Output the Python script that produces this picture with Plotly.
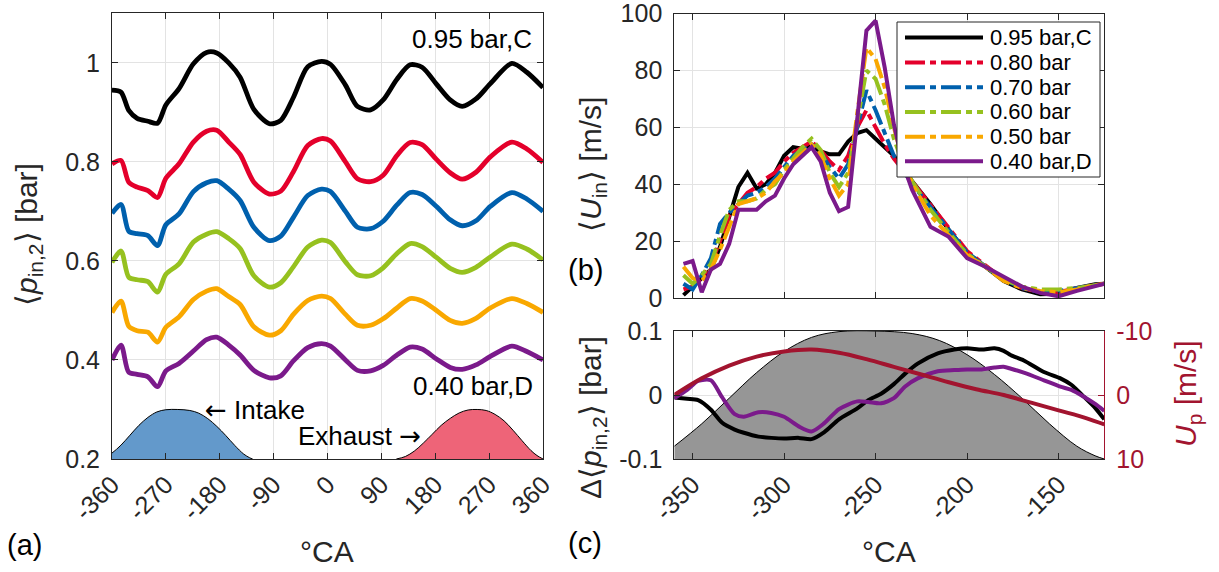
import plotly.graph_objects as go

W, H = 1219, 572
def px(x): return x / W
def py(y): return 1 - y / H

# ---------------- Panel (a) data ----------------
ca_a = [-360,-345,-332,-318,-300,-284,-270,-248,-224,-202,-185,-165,-146,-123,-97,-78,-57,-33,-10,5,
        30,50,72,93,116,138,158,182,205,225,248,272,308,333,360]
p_095 = [0.945,0.941,0.904,0.888,0.882,0.878,0.915,0.948,0.998,1.021,1.020,1.000,0.971,0.906,0.877,0.884,0.930,0.992,1.003,0.997,
         0.955,0.912,0.905,0.925,0.967,0.996,0.991,0.957,0.925,0.912,0.927,0.958,0.999,0.981,0.950]
p_080 = [0.796,0.803,0.759,0.749,0.742,0.728,0.767,0.796,0.840,0.862,0.864,0.840,0.815,0.759,0.735,0.741,0.780,0.833,0.847,0.842,
         0.800,0.766,0.760,0.773,0.813,0.839,0.835,0.805,0.778,0.765,0.779,0.810,0.840,0.826,0.799]
p_070 = [0.696,0.714,0.660,0.655,0.651,0.631,0.673,0.695,0.740,0.758,0.762,0.745,0.722,0.668,0.641,0.650,0.688,0.732,0.745,0.740,
         0.700,0.668,0.665,0.680,0.713,0.738,0.734,0.710,0.683,0.671,0.681,0.710,0.738,0.725,0.700]
p_060 = [0.597,0.620,0.567,0.562,0.558,0.537,0.573,0.594,0.638,0.654,0.659,0.645,0.625,0.570,0.547,0.556,0.588,0.628,0.642,0.637,
         0.598,0.572,0.570,0.586,0.615,0.635,0.629,0.607,0.585,0.577,0.587,0.608,0.634,0.624,0.602]
p_050 = [0.496,0.519,0.468,0.459,0.456,0.436,0.466,0.487,0.522,0.539,0.544,0.528,0.512,0.467,0.450,0.459,0.492,0.520,0.529,0.524,
         0.492,0.470,0.470,0.483,0.505,0.524,0.519,0.500,0.480,0.474,0.484,0.505,0.524,0.514,0.496]
p_040 = [0.400,0.430,0.375,0.371,0.366,0.346,0.378,0.393,0.418,0.441,0.446,0.430,0.410,0.379,0.364,0.368,0.398,0.425,0.433,0.428,
         0.400,0.379,0.378,0.389,0.410,0.426,0.422,0.402,0.385,0.381,0.390,0.407,0.428,0.417,0.400]

# valve lifts (plotted in bar units, baseline 0.2)
ca_int = [-375,-360,-345,-330,-315,-300,-285,-270,-250,-230,-215,-200,-185,-170,-155,-140,-130,-125]
lift_int = [0.200,0.212,0.228,0.248,0.268,0.284,0.295,0.2995,0.300,0.298,0.2925,0.2815,0.266,0.2475,0.2275,0.210,0.2025,0.200]
ca_exh = [115,130,145,160,175,190,205,220,235,250,265,280,295,310,325,340,350,360]
lift_exh = [0.200,0.205,0.216,0.232,0.250,0.268,0.282,0.293,0.299,0.300,0.298,0.290,0.277,0.258,0.237,0.217,0.207,0.200]

# ---------------- Panel (b) data ----------------
ca_b = [-355,-350,-345,-340,-335,-330,-325,-320,-315,-310,-305,-300,-295,-290,-285,-280,-275,-270,-265,-260,
        -255,-250,-245,-240,-235,-230,-220,-210,-200,-190,-180,-170,-160,-150,-140,-130,-125]
u_095 = [1,4,7,10,18,28,39,44,38.5,40,44,50,53,52.5,53.5,51.5,50.5,50.5,55,58,
         59,56,53,50,46,41,33,24,16,11,6,3,1.3,1.5,3.5,4.8,5]
u_080 = [3,4,7,12,20,29,33,37,39,42,44,48,51,53,55,52,48,45,50,60,
         66,60,54,49,45,41,33,25,16.5,11.5,6.5,3.5,2,2,3.5,4.5,5]
u_070 = [5,3,8,14,26,30,33,36,37,39,42,46,50,52,54,51,46,42,47,60,
         73,66,58,50,45,40,32,24,16,11,6.5,3.5,2,2.5,3.5,4.5,5]
u_060 = [8,5,8,12,22,31,34,34,35,38,40,45,49,53,56,52,44,39,44,62,
         80,77,68,56,47,41,31,23,15.5,11,6.5,4,3,3,3.5,4.5,5]
u_050 = [11,7,6,10,17,25,33,34,35,37,41,44,48,51,54,50,42,36,40,65,
         88,84,74,60,48,40,29,22,15,11,6,3.5,2.5,2,3,4.5,5]
u_040 = [12,13,2,10,12,19,31,31,31,34,36,42,47,50,53,48,37,30.5,32,63,
         94,97.5,81,61,47,38,25,21.5,14,11,7.5,4,1.8,0.6,2.5,4.3,5]

# ---------------- Panel (c) data ----------------
ca_c = [-360,-353,-347,-340,-334,-327,-322,-314,-307,-300,-292,-285,-278,-270,-260,-254,-247,-240,-234,
        -227,-216,-207,-200,-192,-185,-180,-176,-169,-158,-149,-143,-136,-130,-125]
dp_095 = [-0.004,-0.006,-0.008,-0.023,-0.043,-0.054,-0.059,-0.065,-0.067,-0.068,-0.067,-0.069,-0.058,-0.038,-0.021,-0.008,0.002,0.017,0.033,
          0.049,0.065,0.071,0.073,0.071,0.073,0.069,0.062,0.054,0.036,0.026,0.016,-0.003,-0.020,-0.038]
dp_040 = [-0.005,0.008,0.022,0.023,-0.003,-0.030,-0.034,-0.027,-0.028,-0.034,-0.049,-0.057,-0.044,-0.022,-0.010,-0.011,-0.013,-0.005,0.013,
          0.026,0.037,0.039,0.040,0.040,0.043,0.044,0.041,0.035,0.023,0.013,0.008,-0.003,-0.014,-0.025]
ca_up = [-360,-345,-330,-315,-300,-285,-270,-255,-240,-225,-210,-195,-180,-165,-150,-135,-125]
u_p = [0,-2.6,-4.6,-6.0,-6.8,-7.1,-6.6,-5.6,-4.4,-3.2,-2.0,-0.9,0,1.2,2.4,3.6,4.6]
ca_lift_c = [-360,-345,-330,-315,-300,-285,-270,-250,-230,-215,-200,-185,-170,-155,-140,-130,-125]
lift_c = [-0.080,-0.045,-0.005,0.035,0.068,0.090,0.099,0.100,0.096,0.085,0.063,0.032,-0.005,-0.045,-0.080,-0.095,-0.100]

labels = ["0.95 bar,C", "0.80 bar", "0.70 bar", "0.60 bar", "0.50 bar", "0.40 bar,D"]
colors = ["#000000", "#E4002B", "#0060AD", "#96C11F", "#F9A800", "#7B1A8B"]
DD = "20px,5px,6px,5px"
dashes = ["solid", DD, DD, DD, DD, "solid"]
RED = "#A2142F"
AX = "#262626"
FONT = "Liberation Sans, Arial, sans-serif"

a_xticks = list(range(-360, 361, 90))
bc_xticks = list(range(-350, -149, 50))

fig = go.Figure()

# panel a valve fills
fig.add_trace(go.Scatter(x=ca_int, y=lift_int, mode="lines", line=dict(color="black", width=1, shape="spline"),
                         fill="tozeroy", fillcolor="#6399CB", showlegend=False, xaxis="x", yaxis="y"))
fig.add_trace(go.Scatter(x=ca_exh, y=lift_exh, mode="lines", line=dict(color="black", width=1, shape="spline"),
                         fill="tozeroy", fillcolor="#EE6478", showlegend=False, xaxis="x", yaxis="y"))
for vals, c in zip([p_095, p_080, p_070, p_060, p_050, p_040], colors):
    fig.add_trace(go.Scatter(x=ca_a, y=vals, mode="lines", line=dict(color=c, width=4.8, shape="spline", smoothing=0.8),
                             showlegend=False, xaxis="x", yaxis="y"))

# panel b
for vals, c, d, lab in zip([u_095, u_080, u_070, u_060, u_050, u_040], colors, dashes, labels):
    fig.add_trace(go.Scatter(x=ca_b, y=vals, mode="lines", name=lab, line=dict(color=c, width=4, dash=d),
                             showlegend=False, xaxis="x2", yaxis="y2"))

# panel c
fig.add_trace(go.Scatter(x=ca_lift_c, y=[-0.1] * len(ca_lift_c), mode="lines", line=dict(width=0),
                         showlegend=False, hoverinfo="skip", xaxis="x3", yaxis="y3"))
fig.add_trace(go.Scatter(x=ca_lift_c, y=lift_c, mode="lines", line=dict(color="black", width=1, shape="spline"),
                         fill="tonexty", fillcolor="#969696", showlegend=False, xaxis="x3", yaxis="y3"))
fig.add_trace(go.Scatter(x=ca_c, y=dp_095, mode="lines", line=dict(color=colors[0], width=4, shape="spline", smoothing=0.7),
                         showlegend=False, xaxis="x3", yaxis="y3"))
fig.add_trace(go.Scatter(x=ca_c, y=dp_040, mode="lines", line=dict(color=colors[5], width=4, shape="spline", smoothing=0.7),
                         showlegend=False, xaxis="x3", yaxis="y3"))
fig.add_trace(go.Scatter(x=ca_up, y=u_p, mode="lines", line=dict(color=RED, width=4, shape="spline"),
                         showlegend=False, xaxis="x3", yaxis="y4"))

tickfont = dict(family=FONT, size=25, color=AX)
common = dict(showline=True, linecolor=AX, linewidth=1, ticks="inside", ticklen=6, tickcolor=AX,
              showgrid=True, gridcolor="#E3E3E3", gridwidth=1, zeroline=False, tickfont=tickfont,
              automargin=False, ticklabeloverflow="allow")

xa_dom = [px(112), px(543)]
xb_dom = [px(674.3), px(1104.3)]

fig.update_layout(
    width=W, height=H, margin=dict(l=0, r=0, t=0, b=0, autoexpand=False),
    paper_bgcolor="white", plot_bgcolor="white", showlegend=False,
    font=dict(family=FONT, color=AX),
    xaxis=dict(domain=xa_dom, range=[-360, 360], tickvals=a_xticks, ticktext=[str(v) for v in a_xticks],
               tickangle=-45, anchor="y", mirror="ticks", **common),
    yaxis=dict(domain=[py(459), py(13.3)], range=[0.2, 1.1], tickvals=[0.2, 0.4, 0.6, 0.8, 1.0],
               ticktext=["0.2", "0.4", "0.6", "0.8", "1"], anchor="x", mirror="ticks", ticklabelstandoff=6, **common),
    xaxis2=dict(domain=xb_dom, range=[-360, -125], tickvals=bc_xticks, showticklabels=False,
                anchor="y2", mirror="ticks", **common),
    yaxis2=dict(domain=[py(298), py(13.5)], range=[0, 100], tickvals=list(range(0, 101, 20)),
                anchor="x2", mirror="ticks", ticklabelstandoff=6, **common),
    xaxis3=dict(domain=xb_dom, range=[-360, -125], tickvals=bc_xticks, ticktext=[str(v) for v in bc_xticks],
                tickangle=-45, anchor="y3", mirror="ticks", **common),
    yaxis3=dict(domain=[py(459), py(331)], range=[-0.1, 0.1], tickvals=[-0.1, 0, 0.1],
                ticktext=["-0.1", "0", "0.1"], anchor="x3", ticklabelstandoff=6, **common),
    yaxis4=dict(overlaying="y3", side="right", anchor="x3", range=[10, -10], tickvals=[-10, 0, 10],
                ticktext=["-10", "0", "10"],
                showline=True, linecolor=RED, linewidth=1, ticks="inside", ticklen=6, tickcolor=RED,
                showgrid=False, zeroline=False, ticklabelstandoff=6, automargin=False, ticklabeloverflow="allow",
                tickfont=dict(family=FONT, size=25, color=RED)),
)

# legend of panel (b), drawn as a box with line samples and labels
shapes = [dict(type="rect", xref="paper", yref="paper", x0=px(897), x1=px(1100), y0=py(177), y1=py(22),
               fillcolor="white", line=dict(color=AX, width=1), layer="above")]
rows = [37.5, 62.5, 87.3, 111.9, 136.7, 161.3]
for ry, c, d in zip(rows, colors, dashes):
    shapes.append(dict(type="line", xref="paper", yref="paper", x0=px(905), x1=px(983), y0=py(ry), y1=py(ry),
                       line=dict(color=c, width=4, dash=d), layer="above"))
fig.update_layout(shapes=shapes)

def ann(text, x, y, size=26, xanchor="center", yanchor="middle", angle=0, color="black"):
    fig.add_annotation(text=text, x=px(x), y=py(y), xref="paper", yref="paper", showarrow=False,
                       xanchor=xanchor, yanchor=yanchor, textangle=angle,
                       font=dict(family=FONT, size=size, color=color))

for ry, lab in zip(rows, labels):
    ann(lab, 988, ry, size=22, xanchor="left")

ARROW = '<span style="font-family:DejaVu Sans">{}</span>'
ann("0.95 bar,C", 534, 39, xanchor="right")
ann("0.40 bar,D", 535, 386, xanchor="right")
ann(ARROW.format("\u2190") + " Intake", 203, 410, xanchor="left")
ann("Exhaust " + ARROW.format("\u2192"), 423, 436, xanchor="right")
ann("\u00b0CA", 327, 551, size=30, color=AX)
ann("\u00b0CA", 889, 551, size=30, color=AX)
ann("(a)", 24, 545, size=29)
ann("(b)", 585, 270, size=29)
ann("(c)", 585, 543, size=29)
ann("\u27e8<i>p</i><sub>in,2</sub>\u27e9 [bar]", 28, 235, size=30, angle=-90, color=AX)
ann("\u27e8<i>U</i><sub>in</sub>\u27e9 [m/s]", 593, 165, size=30, angle=-90, color=AX)
ann("\u0394\u27e8<i>p</i><sub>in,2</sub>\u27e9 [bar]", 592, 418, size=30, angle=-90, color=AX)
ann("<i>U</i><sub>p</sub> [m/s]", 1187, 394, size=30, angle=-90, color=RED)

fig.write_html("out.html")
